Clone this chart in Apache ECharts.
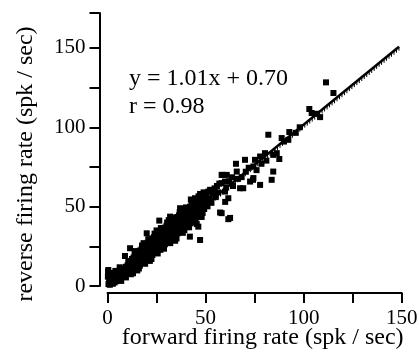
<!DOCTYPE html>
<html>
<head>
<meta charset="utf-8">
<script src="https://cdn.jsdelivr.net/npm/echarts@6/dist/echarts.min.js"></script>
<style>
  html, body { margin: 0; padding: 0; background: #fff; }
  #chart { width: 419px; height: 354px; }
</style>
</head>
<body>
<div id="chart"></div>
<script>
// forward vs reverse firing rate (spk / sec)
var lowCluster = [
  [0.5,1.2],[0.8,2.5],[1.2,0.8],[1.5,3.1],[1.8,1.9],[2.1,4.2],[2.4,2.6],[2.7,1.4],[3.0,5.1],[3.3,3.4],
  [3.6,2.2],[3.9,6.0],[4.2,4.4],[4.5,3.0],[4.8,7.2],[5.1,5.3],[5.4,4.0],[5.7,8.1],[6.0,6.2],[6.3,4.9],
  [6.6,9.0],[6.9,7.1],[7.2,5.8],[7.5,10.2],[7.8,8.0],[8.1,6.7],[8.4,11.0],[8.7,9.1],[9.0,7.6],[9.3,12.1],
  [9.6,10.0],[9.9,8.4],[10.2,13.0],[10.5,11.1],[10.8,9.3],[11.1,14.0],[11.4,12.0],[11.7,10.1],[12.0,15.2],
  [0.4,10.1],[0.2,5.9],[0.3,9.0],[1.0,7.0],[2.6,8.2],[8.9,18.9],[11.5,23.8],
  [4.0,9.5],[6.2,11.8],[7.0,3.2],[9.4,5.4],[10.6,15.8],[11.9,7.4]
];
var midCluster = [
  [12.5,9.5],[12.5,13.8],[12.5,17.0],[13.3,11.0],[13.3,15.2],[13.3,18.0],[14.1,10.8],[14.1,14.5],[14.1,19.2],
  [14.9,12.3],[14.9,16.8],[14.9,20.1],[15.7,13.0],[15.7,17.5],[15.7,21.0],[16.5,12.8],[16.5,18.2],[16.5,22.3],
  [17.3,14.5],[17.3,19.0],[17.3,23.0],[18.1,15.1],[18.1,20.2],[18.1,24.4],[18.9,15.6],[18.9,21.0],[18.9,25.0],
  [19.7,16.8],[19.7,21.8],[19.7,26.1],[20.5,17.2],[20.5,22.5],[20.5,27.3],[21.3,18.0],[21.3,23.4],[21.3,28.0],
  [22.1,18.9],[22.1,24.5],[22.1,29.2],[22.9,19.5],[22.9,25.0],[22.9,30.0],[23.7,20.8],[23.7,26.3],[23.7,30.8],
  [24.5,21.2],[24.5,27.0],[24.5,32.0],[25.3,22.4],[25.3,27.8],[25.3,32.5],[26.1,23.0],[26.1,28.6],[26.1,33.8],
  [26.9,24.1],[26.9,29.8],[26.9,34.2],[27.7,24.6],[27.7,30.5],[27.7,35.3],[28.5,25.8],[28.5,31.2],[28.5,36.0],
  [29.3,26.3],[29.3,32.4],[29.3,36.8],[30.1,27.5],[30.1,33.0],[30.1,38.0],[30.9,28.0],[30.9,33.9],[30.9,38.4],
  [31.7,29.2],[31.7,35.0],[31.7,39.5],[32.5,29.8],[32.5,35.6],[32.5,40.2],[33.3,31.0],[33.3,36.5],[33.3,41.0],
  [34.1,31.4],[34.1,37.3],[34.1,42.1],[34.9,32.6],[34.9,38.4],[34.9,42.6],[35.7,33.2],[35.7,39.0],[35.7,43.5],
  [36.5,34.1],[36.5,40.1],[36.5,44.6],[37.3,35.0],[37.3,40.8],[37.3,45.0],[38.1,35.6],[38.1,41.7],[38.1,46.2],
  [38.9,36.8],[38.9,42.5],[38.9,46.8],[39.7,37.1],[39.7,43.6],[39.7,47.5],[40.5,38.3],[40.5,44.2],[40.5,48.6],
  [41.3,39.0],[41.3,45.0],[41.3,49.2],[42.1,39.5],[42.1,46.1],[42.1,50.0],[42.9,40.6],[42.9,46.8],[42.9,51.2],
  [43.7,41.3],[43.7,47.5],[43.7,52.0],[44.5,42.0],[44.5,48.6],[44.5,52.6],[45.3,43.2],[45.3,49.0],[45.3,53.8],
  [46.1,43.8],[46.1,50.2],[46.1,54.3],[46.9,44.5],[46.9,51.0],[46.9,55.0],[47.7,45.6],[47.7,52.0],[47.7,56.2],
  [48.5,46.0],[48.5,52.8],[48.5,57.0],
  [20.0,33.2],[26.4,41.2],[31.9,43.7],[37.0,49.0],[42.0,31.1],[44.6,55.3],[46.3,37.4],[47.2,29.0]
];
var bandEdges = [
  [13.0,8.0],[14.5,22.0],[16.0,11.0],[17.6,25.5],[19.2,14.0],[20.8,29.5],[22.4,17.0],[24.0,33.0],
  [25.6,20.5],[27.2,36.5],[28.8,23.5],[30.4,40.0],[32.0,27.0],[33.6,43.2],[35.2,30.0],[36.8,46.5],
  [38.4,33.5],[40.0,49.5],[41.6,37.0],[43.2,53.0],[44.8,40.0],[46.4,56.5],[48.0,43.5],[49.0,59.0],
  [13.8,20.5],[15.2,9.8],[18.4,27.0],[21.6,15.8],[25.0,35.0],[27.0,22.8],[31.2,41.5],[34.5,28.5],
  [37.6,48.0],[39.2,35.2],[42.5,54.5],[45.5,39.0],[47.2,58.0],
  [13.6,12.6],[14.8,18.8],[16.2,15.0],[17.0,21.2],[18.6,17.6],[19.4,24.0],[21.0,20.4],[21.9,26.6],
  [23.4,22.9],[24.2,29.6],[25.8,25.2],[26.6,31.9],[28.2,28.0],[29.0,34.6],[30.6,30.6],[31.4,37.2],
  [33.0,33.8],[33.8,39.8],[35.4,36.3],[36.2,42.4],[37.8,38.8],[38.6,44.8],[40.2,41.4],[41.0,47.4],
  [42.6,43.8],[43.4,49.8],[45.0,46.4],[45.8,52.0],[47.4,48.8],[48.2,54.6]
];
var highPoints = [
  [49.3,48.5],[49.8,54.0],[50.4,57.5],[51.0,50.2],[51.4,59.5],[52.0,55.0],[52.3,60.6],[53.0,52.4],[53.5,57.8],
  [54.0,58.5],[54.6,61.5],[55.2,56.0],[55.8,63.0],[56.5,59.0],[57.4,46.3],[57.0,64.5],[58.2,70.0],[58.7,70.0],
  [59.9,65.8],[60.8,70.0],[58.2,64.8],[59.9,59.5],[61.6,55.3],[62.5,42.9],[61.6,42.1],[58.2,45.9],[60.0,53.0],
  [60.5,62.0],[62.0,66.0],[63.5,68.5],[64.0,63.0],[65.5,77.0],[65.9,72.1],[66.5,67.5],[67.6,61.6],[68.4,68.6],
  [69.2,61.6],[70.1,79.5],[70.5,72.0],[72.0,74.5],[72.7,65.8],[74.4,68.0],[74.4,75.3],[74.2,66.9],[75.2,79.5],
  [76.0,73.0],[77.8,81.6],[77.8,63.7],[78.5,77.0],[80.3,83.7],[81.0,79.0],[82.0,95.3],[83.7,66.9],[84.5,82.6],
  [84.5,72.1],[86.3,83.7],[87.6,80.0],[88.8,93.2],[90.0,91.0],[92.2,92.1],[92.7,97.0],[96.0,96.5],[98.0,100.0],
  [102.9,111.5],[104.1,109.0],[106.7,108.5],[108.4,106.4],[111.4,128.3],[115.2,121.6]
];
var fitSlope = 1.01;
var fitIntercept = 0.70;
var fitRange = [0, 148.6];
var xTicks = [0, 50, 100, 150];
var yTicks = [0, 50, 100, 150];

var serif = '"Liberation Serif", "DejaVu Serif", serif';
var fitLine = [[fitRange[0], fitSlope * fitRange[0] + fitIntercept,
                fitRange[1], fitSlope * fitRange[1] + fitIntercept]];
var dot = { type: 'scatter', symbol: 'rect', symbolSize: 6, itemStyle: { color: '#000', opacity: 1 } };

var chart = echarts.init(document.getElementById('chart'));
chart.setOption({
  animation: false,
  grid: { left: 107.5, right: 17.3, top: 13, bottom: 68, containLabel: false, outerBoundsMode: 'none' },
  xAxis: {
    type: 'value', min: 0, max: 150, interval: 25,
    offset: 7,
    splitLine: { show: false },
    axisLine: { onZero: false, lineStyle: { color: '#000', width: 2 } },
    axisTick: { inside: false, length: 10, lineStyle: { color: '#000', width: 2 } },
    axisLabel: {
      margin: 15, color: '#000', fontFamily: serif, fontSize: 21,
      formatter: function (v) { return xTicks.indexOf(v) >= 0 ? String(v) : ''; }
    },
    name: 'forward firing rate (spk / sec)',
    nameLocation: 'middle', nameGap: 33, nameMoveOverlap: false,
    nameTextStyle: { color: '#000', fontFamily: serif, fontSize: 24, padding: [0, 0, 0, 16] }
  },
  yAxis: {
    type: 'value', min: 0, max: 172, interval: 25,
    offset: 8,
    splitLine: { show: false },
    axisLine: { onZero: false, lineStyle: { color: '#000', width: 2 } },
    axisTick: { inside: false, length: 10, lineStyle: { color: '#000', width: 2 } },
    axisLabel: {
      margin: 14, color: '#000', fontFamily: serif, fontSize: 21,
      formatter: function (v) { return yTicks.indexOf(v) >= 0 ? String(v) : ''; }
    },
    name: 'reverse firing rate (spk / sec)',
    nameLocation: 'middle', nameGap: 62, nameMoveOverlap: false,
    nameTextStyle: { color: '#000', fontFamily: serif, fontSize: 24, padding: [0, 29, 0, 0] }
  },
  graphic: [
    { type: 'text', left: 129, top: 67, style: { text: 'y = 1.01x + 0.70', font: '24px ' + serif, fill: '#000' } },
    { type: 'text', left: 129, top: 95, style: { text: 'r = 0.98', font: '24px ' + serif, fill: '#000' } }
  ],
  series: [
    Object.assign({}, dot, { data: lowCluster }),
    Object.assign({}, dot, { data: midCluster }),
    Object.assign({}, dot, { data: bandEdges }),
    Object.assign({}, dot, { data: highPoints }),
    {
      type: 'custom', z: 5, data: fitLine,
      renderItem: function (params, api) {
        var p0 = api.coord([api.value(0), api.value(1)]);
        var p1 = api.coord([api.value(2), api.value(3)]);
        var children = [{
          type: 'line',
          shape: { x1: p0[0], y1: p0[1], x2: p1[0], y2: p1[1] },
          style: { stroke: '#000', lineWidth: 2.5 }
        }];
        var dx = p1[0] - p0[0], dy = p1[1] - p0[1];
        var len = Math.sqrt(dx * dx + dy * dy);
        for (var s = 2; s < len; s += 3.2) {
          var x = p0[0] + dx * s / len, y = p0[1] + dy * s / len;
          children.push({
            type: 'line',
            shape: { x1: x, y1: y, x2: x, y2: y + 4 },
            style: { stroke: '#000', lineWidth: 1 }
          });
        }
        return { type: 'group', children: children };
      }
    }
  ]
});
</script>
</body>
</html>
